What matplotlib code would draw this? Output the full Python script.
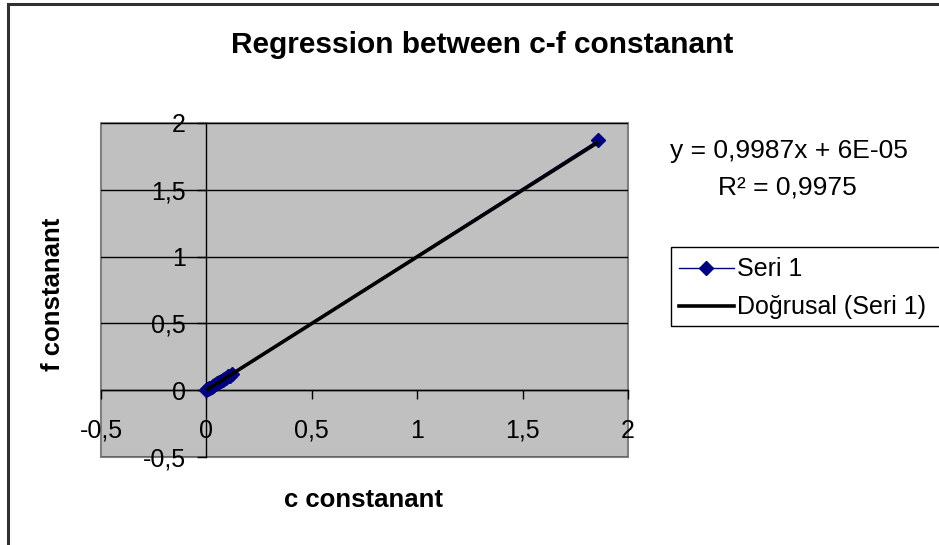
import matplotlib
matplotlib.use("Agg")
import matplotlib.pyplot as plt
from matplotlib.patches import Rectangle
from matplotlib.lines import Line2D
import numpy as np

plt.rcParams['font.family'] = ['Liberation Sans', 'DejaVu Sans']

# ---- data ----
c_values = [0.000, 0.004, 0.008, 0.012, 0.018, 0.025, 0.031, 0.038, 0.045,
            0.052, 0.060, 0.068, 0.077, 0.085, 0.094, 0.103, 0.112, 0.122, 1.860]
f_values = [0.001, 0.006, 0.006, 0.013, 0.017, 0.026, 0.029, 0.040, 0.044,
            0.054, 0.058, 0.069, 0.075, 0.087, 0.092, 0.104, 0.110, 0.124, 1.872]
slope = 0.9987
intercept = 6e-05
tick_values = [-0.5, 0, 0.5, 1, 1.5, 2]
tick_labels = ["-0,5", "0", "0,5", "1", "1,5", "2"]
title = "Regression between c-f constanant"
x_title = "c constanant"
y_title = "f constanant"
eq_line1 = "y = 0,9987x + 6E-05"
eq_line2 = "R² = 0,9975"
series_name = "Seri 1"
trend_name = "Doğrusal (Seri 1)"

W, H = 939, 545
fig = plt.figure(figsize=(W / 100, H / 100), dpi=100)

def fx(px):
    return px / W

def fy(py):
    return 1 - py / H

# outer chart border (extends past right/bottom edges)
fig.patches.append(Rectangle((fx(8), fy(560)), fx(960) - fx(8), fy(4) - fy(560),
                             transform=fig.transFigure, fill=False,
                             edgecolor='#303030', linewidth=2.2))

ax = fig.add_axes([fx(101), fy(457), fx(628) - fx(101), fy(123) - fy(457)])
ax.set_facecolor('#C0C0C0')
ax.set_xlim(-0.5, 2)
ax.set_ylim(-0.5, 2)

# plot area border
ax.add_patch(Rectangle((0, 0), 1, 1, transform=ax.transAxes, fill=False,
                       edgecolor='#808080', linewidth=1.5, zorder=0.5, clip_on=False))

for s in ['top', 'right']:
    ax.spines[s].set_visible(False)
ax.spines['left'].set_position(('data', 0))
ax.spines['bottom'].set_position(('data', 0))
for s in ['left', 'bottom']:
    ax.spines[s].set_color('black')
    ax.spines[s].set_linewidth(1.0)

ax.set_xticks(tick_values)
ax.set_xticklabels(tick_labels)
ax.set_yticks(tick_values)
ax.set_yticklabels(tick_labels)
ax.tick_params(axis='both', direction='out', length=6.5, width=1.0,
               labelsize=18, colors='black')
ax.tick_params(axis='y', pad=8.5)
ax.tick_params(axis='x', pad=14)

ax.yaxis.grid(True, color='black', linewidth=1.0)
ax.xaxis.grid(False)
ax.set_axisbelow(True)

order = np.argsort(c_values)
cx = np.array(c_values)[order]
cy = np.array(f_values)[order]
ax.plot(cx, cy, color='#000080', linewidth=1.0, marker='D', markersize=7.5,
        markerfacecolor='#000080', markeredgecolor='#000080', zorder=3, clip_on=False)

tx = np.array([min(c_values), max(c_values)])
ax.plot(tx, slope * tx + intercept, color='black', linewidth=2.6, zorder=4,
        solid_capstyle='butt')

fig.text(fx(482), fy(45), title, ha='center', va='center', fontsize=21.5,
         fontweight='bold')
fig.text(fx(364), fy(500), x_title, ha='center', va='center', fontsize=18.5,
         fontweight='bold')
fig.text(fx(53), fy(294), y_title, ha='center', va='center', fontsize=18.5,
         fontweight='bold', rotation=90)

fig.text(fx(789), fy(151), eq_line1, ha='center', va='center', fontsize=19)
fig.text(fx(787), fy(188), eq_line2, ha='center', va='center', fontsize=19)

# legend box (extends past the right edge, as in the original)
fig.patches.append(Rectangle((fx(671), fy(326)), fx(960) - fx(671), fy(247) - fy(326),
                             transform=fig.transFigure, fill=False,
                             edgecolor='black', linewidth=1.0))
handles = [Line2D([], [], color='#000080', linewidth=1.0, marker='D',
                  markersize=7.5, markerfacecolor='#000080'),
           Line2D([], [], color='black', linewidth=2.6)]
leg = fig.legend(handles, [series_name, trend_name], loc='upper left',
                 bbox_to_anchor=(fx(671), fy(250)), borderaxespad=0,
                 fontsize=18, frameon=False, handlelength=2.2, handletextpad=0.15,
                 borderpad=0.3, labelspacing=0.55)

fig.savefig('out.png', dpi=100)
